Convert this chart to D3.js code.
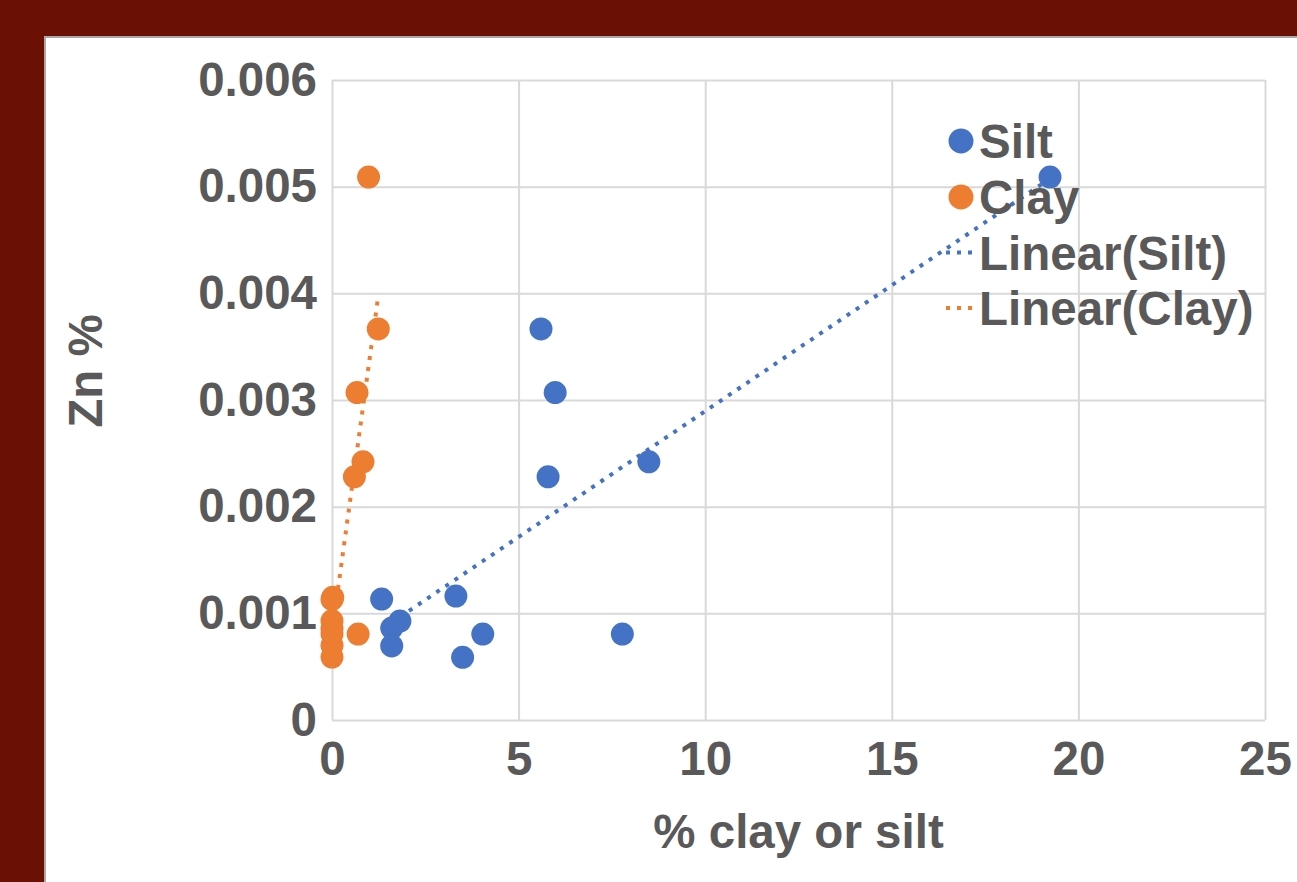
<!DOCTYPE html>
<html>
<head>
<meta charset="utf-8">
<script src="https://cdn.jsdelivr.net/npm/d3@7/dist/d3.min.js"></script>
<style>
  html, body { margin: 0; padding: 0; background: #6b1005; overflow: hidden; }
  svg { display: block; }
  text { font-family: "Liberation Sans", Arial, sans-serif; font-weight: bold; fill: #595959; }
</style>
</head>
<body>
<svg id="chart" width="1297" height="882"></svg>
<script>
// Zn content against % silt and % clay
const siltPct = [19.24, 5.6, 5.98, 5.79, 8.49, 1.33, 3.32, 1.82, 1.6, 1.6, 4.04, 3.5, 7.78];
const siltZn  = [0.00509, 0.003666, 0.00307, 0.00228, 0.00242, 0.001134, 0.001162, 0.000928, 0.000862, 0.000694, 0.000806, 0.000588, 0.000806];
const clayPct = [0.98, 1.24, 0.67, 0.6, 0.83, 0.02, 0.0, 0.0, 0.0, 0.0, 0.7, 0.0, 0.0];
const clayZn  = [0.00509, 0.003666, 0.00307, 0.00228, 0.00242, 0.00115, 0.00113, 0.00093, 0.00086, 0.0007, 0.000806, 0.00059, 0.000806];

const xTicks = [0, 5, 10, 15, 20, 25];
const xTickLabels = ["0", "5", "10", "15", "20", "25"];
const yTicks = [0, 0.001, 0.002, 0.003, 0.004, 0.005, 0.006];
const yTickLabels = ["0", "0.001", "0.002", "0.003", "0.004", "0.005", "0.006"];

const seriesNames = ["Silt", "Clay"];
const trendNames = ["Linear(Silt)", "Linear(Clay)"];
const colors = { Silt: "#4472c4", Clay: "#ed7d31" };

const svg = d3.select("#chart");

// white chart panel on the dark red page
svg.append("rect")
  .attr("x", 45).attr("y", 37).attr("width", 1300).attr("height", 900)
  .attr("fill", "#ffffff").attr("stroke", "#a9a9a9").attr("stroke-width", 2);

const x = d3.scaleLinear().domain([0, 25]).range([332, 1265]);
const y = d3.scaleLinear().domain([0, 0.006]).range([720, 80]);

const fontSize = 47.5;

// y axis with horizontal gridlines
const yAxis = svg.append("g")
  .attr("transform", `translate(${x(0)},0)`)
  .call(d3.axisLeft(y)
    .tickValues(yTicks)
    .tickFormat((d, i) => yTickLabels[i])
    .tickSizeInner(-(x(25) - x(0)))
    .tickSizeOuter(0)
    .tickPadding(15));
yAxis.select(".domain").remove();
yAxis.selectAll(".tick line").attr("stroke", "#d9d9d9").attr("stroke-width", 2);
yAxis.selectAll(".tick text").style("font-size", fontSize + "px").attr("fill", "#595959");

// x axis with vertical gridlines
const xAxis = svg.append("g")
  .attr("transform", `translate(0,${y(0)})`)
  .call(d3.axisBottom(x)
    .tickValues(xTicks)
    .tickFormat((d, i) => xTickLabels[i])
    .tickSizeInner(-(y(0) - y(0.006)))
    .tickSizeOuter(0)
    .tickPadding(21));
xAxis.select(".domain").remove();
xAxis.selectAll(".tick line").attr("stroke", "#d9d9d9").attr("stroke-width", 2);
xAxis.selectAll(".tick text").style("font-size", fontSize + "px").attr("fill", "#595959");

// axis titles
svg.append("text")
  .attr("x", (x(0) + x(25)) / 2).attr("y", 848)
  .attr("text-anchor", "middle")
  .style("font-size", fontSize + "px")
  .text("% clay or silt");

svg.append("text")
  .attr("transform", "translate(102,371) rotate(-90)")
  .attr("text-anchor", "middle")
  .style("font-size", fontSize + "px")
  .text("Zn %");

// least-squares linear fit
function linearFit(xs, ys) {
  const mx = d3.mean(xs), my = d3.mean(ys);
  let sxy = 0, sxx = 0;
  xs.forEach((v, i) => { sxy += (v - mx) * (ys[i] - my); sxx += (v - mx) * (v - mx); });
  const slope = sxy / sxx;
  return { slope, intercept: my - slope * mx };
}

const series = [
  { name: "Silt", xs: siltPct, ys: siltZn },
  { name: "Clay", xs: clayPct, ys: clayZn }
];

// trend lines, drawn under the markers
series.forEach(s => {
  const fit = linearFit(s.xs, s.ys);
  const [x0, x1] = d3.extent(s.xs);
  svg.append("line")
    .attr("x1", x(x0)).attr("y1", y(fit.intercept + fit.slope * x0))
    .attr("x2", x(x1)).attr("y2", y(fit.intercept + fit.slope * x1))
    .attr("stroke", colors[s.name])
    .attr("stroke-width", 4)
    .attr("stroke-dasharray", "4,7");
});

// markers
series.forEach(s => {
  svg.append("g").selectAll("circle")
    .data(s.xs.map((v, i) => [v, s.ys[i]]))
    .join("circle")
    .attr("cx", d => x(d[0]))
    .attr("cy", d => y(d[1]))
    .attr("r", 11.5)
    .attr("fill", colors[s.name]);
});

// legend
const legend = svg.append("g");
const rowY = [141, 197, 252.5, 308];
seriesNames.forEach((n, i) => {
  legend.append("circle").attr("cx", 961).attr("cy", rowY[i]).attr("r", 12.5).attr("fill", colors[n]);
  legend.append("text").attr("x", 979).attr("y", rowY[i]).attr("dy", "0.36em")
    .style("font-size", fontSize + "px").text(n);
});
trendNames.forEach((n, i) => {
  const c = colors[seriesNames[i]];
  legend.append("line")
    .attr("x1", 946).attr("x2", 976)
    .attr("y1", rowY[i + 2]).attr("y2", rowY[i + 2])
    .attr("stroke", c).attr("stroke-width", 4).attr("stroke-dasharray", "4,7");
  legend.append("text").attr("x", 979).attr("y", rowY[i + 2]).attr("dy", "0.36em")
    .style("font-size", fontSize + "px").text(n);
});
</script>
</body>
</html>
